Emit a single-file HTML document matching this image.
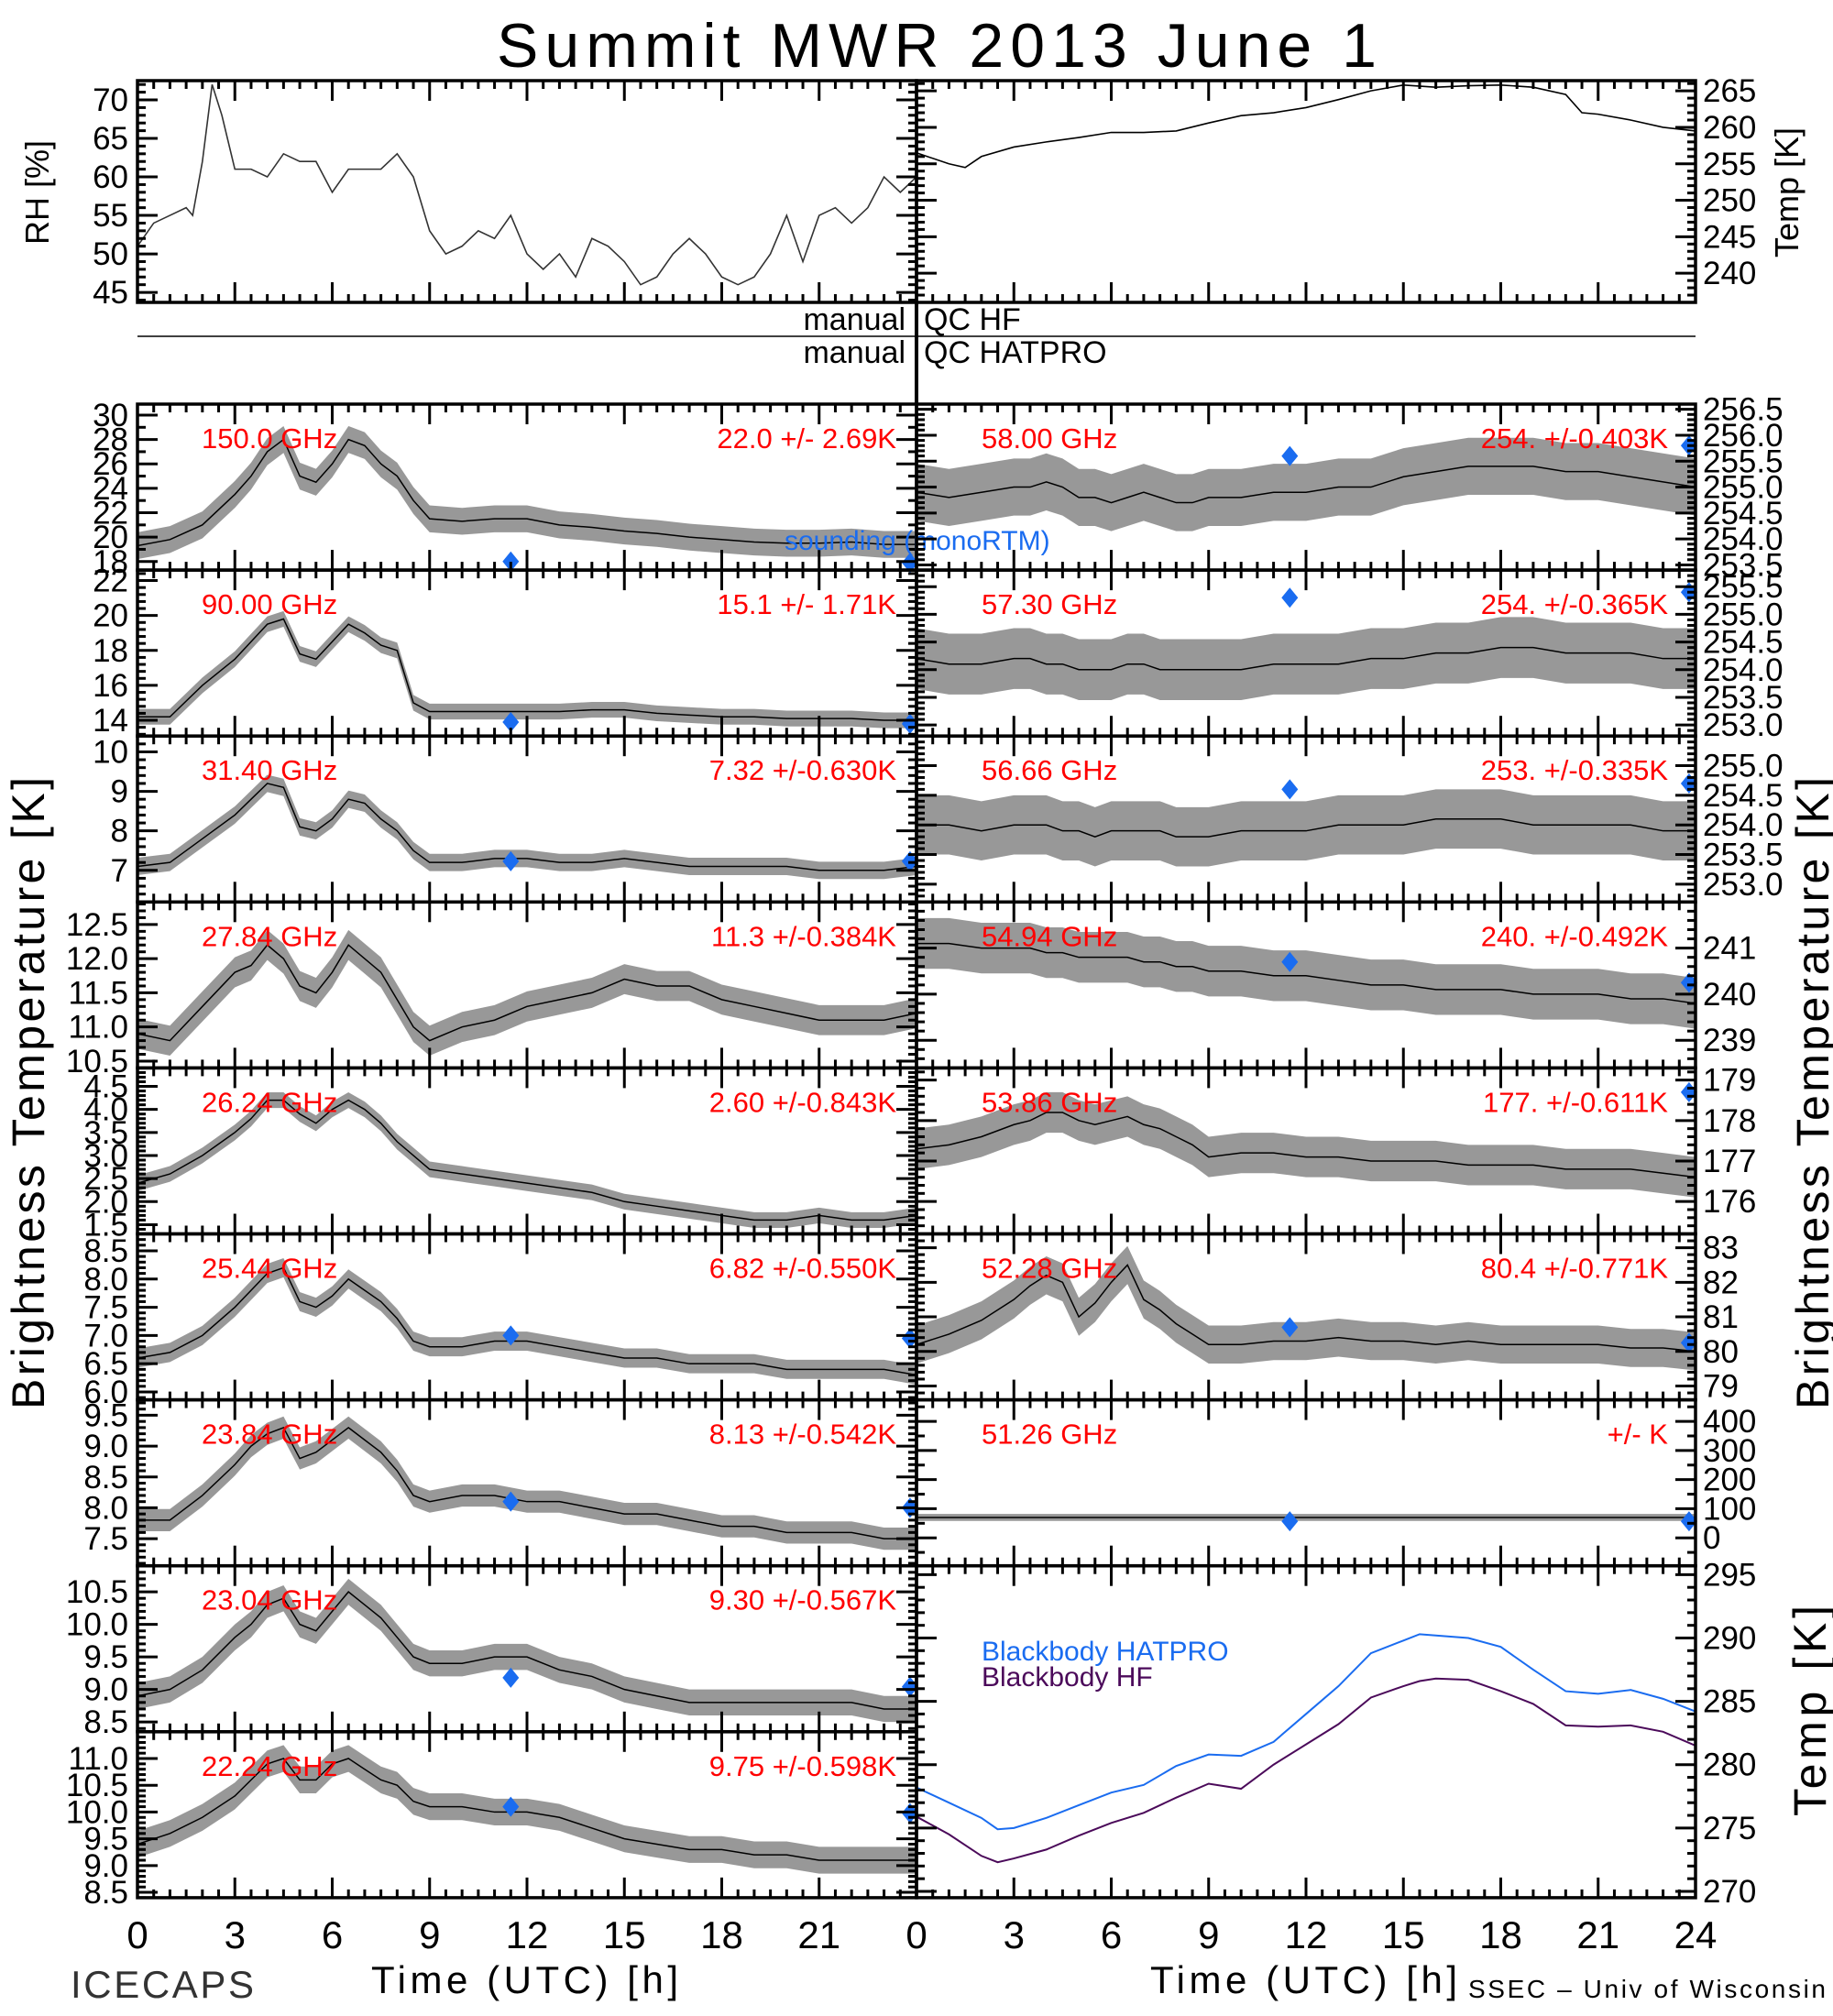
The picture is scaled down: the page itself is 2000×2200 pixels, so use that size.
<!DOCTYPE html>
<html><head><meta charset="utf-8">
<style>
html,body{margin:0;padding:0;background:#fff;overflow:hidden;}
svg{display:block;}
text{font-family:"Liberation Sans",sans-serif;}
</style></head>
<body>
<svg id="chart" xmlns="http://www.w3.org/2000/svg" width="2000" height="2200" viewBox="0 0 2000 2200">
<rect x="0" y="0" width="2000" height="2200" fill="#fff"/>
<text x="1022" y="73" font-size="68" text-anchor="middle" textLength="960" lengthAdjust="spacing">Summit  MWR  2013  June    1</text>
<text x="53" y="210" font-size="36" text-anchor="middle" transform="rotate(-90 53 210)">RH [%]</text>
<text x="1962" y="210" font-size="36" text-anchor="middle" transform="rotate(-90 1962 210)">Temp [K]</text>
<text x="48" y="1193" font-size="50" text-anchor="middle" textLength="690" lengthAdjust="spacing" transform="rotate(-90 48 1193)">Brightness Temperature [K]</text>
<text x="1995" y="1193" font-size="50" text-anchor="middle" textLength="690" lengthAdjust="spacing" transform="rotate(-90 1995 1193)">Brightness Temperature [K]</text>
<text x="1992" y="1867" font-size="50" text-anchor="middle" textLength="230" lengthAdjust="spacing" transform="rotate(-90 1992 1867)">Temp [K]</text>
<text x="988" y="360" font-size="34" text-anchor="end">manual</text>
<text x="1008" y="360" font-size="34">QC  HF</text>
<line x1="150" y1="367" x2="1850" y2="367" stroke="#000" stroke-width="1.5"/>
<text x="988" y="396" font-size="34" text-anchor="end">manual</text>
<text x="1008" y="396" font-size="34">QC  HATPRO</text>
<line x1="1000" y1="330" x2="1000" y2="441" stroke="#000" stroke-width="4"/>
<text x="405" y="2175" font-size="42" textLength="335" lengthAdjust="spacing">Time (UTC) [h]</text>
<text x="1255" y="2175" font-size="42" textLength="335" lengthAdjust="spacing">Time (UTC) [h]</text>
<text x="77" y="2180" font-size="42" fill="#333" textLength="200" lengthAdjust="spacing">ICECAPS</text>
<text x="1602" y="2180" font-size="28" textLength="390" lengthAdjust="spacing">SSEC – Univ of Wisconsin</text>
<g id="panels"></g>
</svg>
<script>
// ---------- data ----------
const T = [0,1,2,3,3.5,4,4.5,5,5.5,6,6.5,7,7.5,8,8.5,9,10,11,12,13,14,15,16,17,18,19,20,21,22,23,24];
const bt150 = [19.3,19.8,21,23.5,25,27,28,25,24.5,26,28,27.5,26,25,23,21.5,21.3,21.5,21.5,21,20.8,20.5,20.3,20,19.8,19.6,19.5,19.5,19.6,19.4,19.4];
const bt090 = [14.2,14.2,16,17.5,18.5,19.5,19.8,17.8,17.5,18.5,19.5,19,18.3,18,15,14.5,14.5,14.5,14.5,14.5,14.6,14.6,14.4,14.3,14.2,14.2,14.1,14.1,14.1,14,14];
const bt3140 = [7.1,7.2,7.8,8.4,8.8,9.2,9.1,8.1,8.0,8.3,8.8,8.7,8.3,8.0,7.5,7.2,7.2,7.3,7.3,7.2,7.2,7.3,7.2,7.1,7.1,7.1,7.1,7.0,7.0,7.0,7.1];
const bt2784 = [10.9,10.8,11.3,11.8,11.9,12.2,12.0,11.6,11.5,11.8,12.2,12.0,11.8,11.4,11.0,10.8,11.0,11.1,11.3,11.4,11.5,11.7,11.6,11.6,11.4,11.3,11.2,11.1,11.1,11.1,11.2];
const bt2624 = [2.4,2.6,3.0,3.5,3.8,4.2,4.2,3.9,3.7,4.0,4.2,4.0,3.7,3.3,3.0,2.7,2.6,2.5,2.4,2.3,2.2,2.0,1.9,1.8,1.7,1.6,1.6,1.7,1.6,1.6,1.7];
const bt2544 = [6.6,6.7,7.0,7.5,7.8,8.1,8.2,7.6,7.5,7.7,8.0,7.8,7.6,7.3,6.9,6.8,6.8,6.9,6.9,6.8,6.7,6.6,6.6,6.5,6.5,6.5,6.4,6.4,6.4,6.4,6.3];
const bt2384 = [7.8,7.8,8.2,8.7,9.0,9.2,9.3,8.8,8.9,9.1,9.3,9.1,8.9,8.6,8.2,8.1,8.2,8.2,8.1,8.1,8.0,7.9,7.9,7.8,7.7,7.7,7.6,7.6,7.6,7.5,7.5];
const bt2304 = [8.9,9.0,9.3,9.8,10.0,10.3,10.4,10.0,9.9,10.2,10.5,10.3,10.1,9.8,9.5,9.4,9.4,9.5,9.5,9.3,9.2,9.0,8.9,8.8,8.8,8.8,8.8,8.8,8.8,8.7,8.7];
const bt2224 = [9.4,9.6,9.9,10.3,10.6,10.9,11.0,10.6,10.6,10.9,11.0,10.8,10.6,10.5,10.2,10.1,10.1,10.0,10.0,9.9,9.7,9.5,9.4,9.3,9.3,9.2,9.2,9.1,9.1,9.1,9.1];
const bt5800 = [254.9,254.8,254.9,255.0,255.0,255.1,255.0,254.8,254.8,254.7,254.8,254.9,254.8,254.7,254.7,254.8,254.8,254.9,254.9,255.0,255.0,255.2,255.3,255.4,255.4,255.4,255.3,255.3,255.2,255.1,255.0];
const bt5730 = [254.2,254.1,254.1,254.2,254.2,254.1,254.1,254.0,254.0,254.0,254.1,254.1,254.0,254.0,254.0,254.0,254.0,254.1,254.1,254.1,254.2,254.2,254.3,254.3,254.4,254.4,254.3,254.3,254.3,254.2,254.2];
const bt5666 = [254.0,254.0,253.9,254.0,254.0,254.0,253.9,253.9,253.8,253.9,253.9,253.9,253.9,253.8,253.8,253.8,253.9,253.9,253.9,254.0,254.0,254.0,254.1,254.1,254.1,254.0,254.0,254.0,254.0,253.9,253.9];
const bt5494 = [241.1,241.1,241.0,241.0,241.0,240.9,240.9,240.8,240.8,240.8,240.8,240.7,240.7,240.6,240.6,240.5,240.5,240.4,240.4,240.3,240.2,240.2,240.1,240.1,240.1,240.0,240.0,240.0,239.9,239.9,239.8];
const bt5386 = [177.3,177.4,177.6,177.9,178.0,178.2,178.2,178.0,177.9,178.0,178.1,177.9,177.8,177.6,177.4,177.1,177.2,177.2,177.1,177.1,177.0,177.0,177.0,176.9,176.9,176.9,176.8,176.8,176.8,176.7,176.6];
const bt5228 = [80.2,80.5,80.9,81.5,81.9,82.2,82.0,81.0,81.4,82.0,82.5,81.5,81.2,80.8,80.5,80.2,80.2,80.3,80.3,80.4,80.3,80.3,80.2,80.3,80.2,80.2,80.2,80.2,80.1,80.1,80.0];
const bt5126 = [70,70,70,70,70,70,70,70,70,70,70,70,70,70,70,70,70,70,70,70,70,70,70,70,70,70,70,70,70,70,70];
const leftSpread = [1.1, 0.45, 0.22, 0.22, 0.17, 0.17, 0.18, 0.2, 0.25];
const rightSpread = [0.55, 0.55, 0.5, 0.55, 0.5, 0.55, 12];
const soundTime = [11.5, 23.8];
const sound150 = [18.0, 17.9];
const sound090 = [13.9, 13.8];
const sound3140 = [7.23, 7.23];
const sound2544 = [7.0, 6.95];
const sound2384 = [8.1, 8.0];
const sound2304 = [9.18, 9.04];
const sound2224 = [10.1, 9.98];
const sound5800 = [255.6, 255.8];
const sound5730 = [255.3, 255.4];
const sound5666 = [254.6, 254.7];
const sound5494 = [240.7, 240.25];
const sound5386 = [null, 178.7];
const sound5228 = [80.7, 80.25];
const sound5126 = [57, 57];
const leftFreqs = ['150.0 GHz','90.00 GHz','31.40 GHz','27.84 GHz','26.24 GHz','25.44 GHz','23.84 GHz','23.04 GHz','22.24 GHz'];
const leftStats = ['22.0 +/-  2.69K','15.1 +/-  1.71K','7.32 +/-0.630K','11.3 +/-0.384K','2.60 +/-0.843K','6.82 +/-0.550K','8.13 +/-0.542K','9.30 +/-0.567K','9.75 +/-0.598K'];
const rightFreqs = ['58.00 GHz','57.30 GHz','56.66 GHz','54.94 GHz','53.86 GHz','52.28 GHz','51.26 GHz'];
const rightStats = ['254. +/-0.403K','254. +/-0.365K','253. +/-0.335K','240. +/-0.492K','177. +/-0.611K','80.4 +/-0.771K','+/-       K'];
const leftTicks = [[30,28,26,24,22,20,18],[22,20,18,16,14],[10,9,8,7],[12.5,12.0,11.5,11.0,10.5],[4.5,4.0,3.5,3.0,2.5,2.0,1.5],[8.5,8.0,7.5,7.0,6.5,6.0],[9.5,9.0,8.5,8.0,7.5],[10.5,10.0,9.5,9.0,8.5],[11.0,10.5,10.0,9.5,9.0,8.5]];
const rightTicks = [[256.5,256.0,255.5,255.0,254.5,254.0,253.5],[255.5,255.0,254.5,254.0,253.5,253.0],[255.0,254.5,254.0,253.5,253.0],[241,240,239],[179,178,177,176],[83,82,81,80,79],[400,300,200,100,0]];
const rhTime = [0,0.5,1,1.5,1.7,2,2.3,2.6,3,3.5,4,4.5,5,5.5,6,6.5,7,7.5,8,8.5,9,9.5,10,10.5,11,11.5,12,12.5,13,13.5,14,14.5,15,15.5,16,16.5,17,17.5,18,18.5,19,19.5,20,20.5,21,21.5,22,22.5,23,23.5,24];
const rhValues = [51,54,55,56,55,62,72,68,61,61,60,63,62,62,58,61,61,61,63,60,53,50,51,53,52,55,50,48,50,47,52,51,49,46,47,50,52,50,47,46,47,50,55,49,55,56,54,56,60,58,60];
const rhTicks = [70,65,60,55,50,45];
const airTime = [0,1,1.5,2,3,4,5,6,7,8,9,10,11,12,13,14,15,16,17,18,19,20,20.5,21,22,23,24];
const airTemp = [256.5,255,254.5,256,257.3,258,258.6,259.3,259.3,259.5,260.6,261.6,262,262.7,263.8,265,265.8,265.5,265.7,265.8,265.5,264.5,262,261.8,261,260,259.5];
const airTicks = [265,260,255,250,245,240];
const bbTime = [0,1,2,2.5,3,4,5,6,7,8,9,10,11,12,13,14,15,15.5,16,17,18,19,20,21,22,23,24];
const bbHatpro = [278.2,277,275.8,274.9,275,275.8,276.8,277.8,278.4,279.9,280.8,280.7,281.8,284,286.2,288.8,289.8,290.3,290.2,290,289.3,287.5,285.8,285.6,285.9,285.2,284.2];
const bbHF = [275.9,274.5,272.8,272.3,272.6,273.3,274.4,275.4,276.2,277.4,278.5,278.1,280,281.6,283.2,285.3,286.2,286.6,286.8,286.7,285.8,284.8,283.1,283.0,283.1,282.6,281.5];
const bbTicks = [295,290,285,280,275,270];
const leftTimeTicks = [0,3,6,9,12,15,18,21];
const rightTimeTicks = [0,3,6,9,12,15,18,21,24];

// ---------- drawing ----------
const NS = 'http://www.w3.org/2000/svg';
const root = document.getElementById('panels');
function mk(tag, attrs, parent){
  const e = document.createElementNS(NS, tag);
  for (const k in attrs) e.setAttribute(k, attrs[k]);
  (parent||root).appendChild(e);
  return e;
}
const LX0=150, LX1=1000, RX0=1000, RX1=1850;
const ROW0=441, ROWH=181.1;
let clipId=0;

function makePanel(name, x0,x1,y0,y1,yMin,yMax){
  const g = mk('g',{});
  
  
  const id='clip'+(clipId++);
  const cp = mk('clipPath',{id:id},g);
  mk('rect',{x:x0,y:y0,width:x1-x0,height:y1-y0},cp);
  const inner = mk('g',{'clip-path':'url(#'+id+')'},g);
  const sx = t => x0 + (t/24)*(x1-x0);
  const sy = v => y1 - (v-yMin)/(yMax-yMin)*(y1-y0);
  return {g, inner, sx, sy, x0,x1,y0,y1};
}
function frame(p, ticks, side, fmt, minorN){
  const {g,sx,sy,x0,x1,y0,y1} = p;
  for (let h=0; h<=24; h+=0.5){
    const major = (h%3===0);
    const L = major?22:9;
    const x = sx(h);
    const t1 = mk('line',{x1:x,y1:y1,x2:x,y2:y1-L,stroke:'#000','stroke-width':3},g);
    
    
    mk('line',{x1:x,y1:y0,x2:x,y2:y0+L,stroke:'#000','stroke-width':3},g);
  }
  if (ticks){
    const step = ticks.length>1 ? Math.abs(ticks[0]-ticks[1]) : 1;
    const n = minorN||4;
    const minV = Math.min(...ticks)-step, maxV = Math.max(...ticks)+step;
    for (let v=minV; v<=maxV+1e-9; v+=step/(n+1)){
      const y = sy(v);
      if (y<y0-0.5 || y>y1+0.5) continue;
      const major = ticks.some(t=>Math.abs(t-v)<1e-6);
      const L = major?22:9;
      mk('line',{x1:x0,y1:y,x2:x0+L,y2:y,stroke:'#000','stroke-width':3},g);
      mk('line',{x1:x1,y1:y,x2:x1-L,y2:y,stroke:'#000','stroke-width':3},g);
    }
    ticks.forEach(t=>{
      const y = sy(t);
      const tx = side==='left' ? mk('text',{x:x0-10,y:y+12,'font-size':35,'text-anchor':'end'},g)
                               : mk('text',{x:x1+8,y:y+12,'font-size':35,'text-anchor':'start'},g);
      tx.textContent = fmt ? fmt(t) : String(t);
      
      
    });
  }
  mk('rect',{x:x0,y:y0,width:x1-x0,height:y1-y0,fill:'none',stroke:'#000','stroke-width':3.5},g);
}
function line(p, times, vals, color, w, name){
  const pts = times.map((t,i)=>p.sx(t)+','+p.sy(vals[i])).join(' ');
  const l = mk('polyline',{points:pts,fill:'none',stroke:color,'stroke-width':w},p.inner);
  
  
}
function band(p, times, vals, spread){
  const up=[], dn=[];
  times.forEach((t,i)=>{ up.push(p.sx(t)+','+p.sy(vals[i]+spread)); dn.unshift(p.sx(t)+','+p.sy(vals[i]-spread)); });
  const b = mk('polygon',{points:up.concat(dn).join(' '),fill:'#444','fill-opacity':0.55},p.inner);
  
  
  line(p, times, vals, '#000', 1.5, 'series-line');
}
function diamonds(p, vals){
  soundTime.forEach((t,i)=>{
    if (vals[i]==null) return;
    const x=p.sx(t), y=p.sy(vals[i]);
    const d = mk('polygon',{points:`${x},${y-11} ${x+9},${y} ${x},${y+11} ${x-9},${y}`,fill:'#1a6cf0'},p.g);
    
    
  });
}
function labels(p, freq, stat, fx, sxr){
  const a = mk('text',{x:fx,y:p.y0+48,'font-size':31,fill:'#f00'},p.g);
  a.textContent = freq;
  
  
  const b = mk('text',{x:sxr,y:p.y0+48,'font-size':31,fill:'#f00','text-anchor':'end'},p.g);
  b.textContent = stat;
  
  
}

const rh = makePanel('rh-panel', LX0,LX1,88,330,43.7,72.5);
line(rh, rhTime, rhValues, '#333', 1.6, 'rh-line');
frame(rh, rhTicks, 'left', null, 4);
const air = makePanel('air-temp-panel', RX0,RX1,88,330,236,266.4);
line(air, airTime, airTemp, '#000', 1.6, 'air-temp-line');
frame(air, airTicks, 'right', null, 4);

const leftSeries = [bt150,bt090,bt3140,bt2784,bt2624,bt2544,bt2384,bt2304,bt2224];
const leftSound = [sound150,sound090,sound3140,null,null,sound2544,sound2384,sound2304,sound2224];
const leftRange = [[17.3,30.9],[13.1,22.6],[6.2,10.4],[10.4,12.83],[1.3,4.9],[5.86,8.8],[7.06,9.75],[8.35,10.9],[8.4,11.5]];
const leftFmt = [null,null,null,v=>v.toFixed(1),v=>v.toFixed(1),v=>v.toFixed(1),v=>v.toFixed(1),v=>v.toFixed(1),v=>v.toFixed(1)];
leftSeries.forEach((s,i)=>{
  const y0 = ROW0+i*ROWH, y1 = ROW0+(i+1)*ROWH;
  const p = makePanel('left-panel-'+(i+1), LX0,LX1,y0,y1,leftRange[i][0],leftRange[i][1]);
  band(p, T, s, leftSpread[i]);
  if (leftSound[i]) diamonds(p, leftSound[i]);
  labels(p, leftFreqs[i], leftStats[i], 220, 978);
  frame(p, leftTicks[i], 'left', leftFmt[i], i===0?1:4);
  if (i===8){
    leftTimeTicks.forEach(h=>{
      const t = mk('text',{x:p.sx(h),y:y1+55,'font-size':42,'text-anchor':'middle'},p.g);
      t.textContent = String(h);
      
      
    });
  }
});
const sLab = mk('text',{x:856,y:600,'font-size':30,fill:'#1a6cf0'});
sLab.textContent = 'sounding (monoRTM)';



const rightSeries = [bt5800,bt5730,bt5666,bt5494,bt5386,bt5228,bt5126];
const rightSound = [sound5800,sound5730,sound5666,sound5494,sound5386,sound5228,sound5126];
const rightRange = [[253.4,256.6],[252.8,255.8],[252.7,255.5],[238.4,242],[175.2,179.3],[78.6,83.4],[-96,474]];
const rightFmt = [v=>v.toFixed(1),v=>v.toFixed(1),v=>v.toFixed(1),null,null,null,null];
rightSeries.forEach((s,i)=>{
  const y0 = ROW0+i*ROWH, y1 = ROW0+(i+1)*ROWH;
  const p = makePanel('right-panel-'+(i+1), RX0,RX1,y0,y1,rightRange[i][0],rightRange[i][1]);
  band(p, T, s, rightSpread[i]);
  diamonds(p, rightSound[i]);
  labels(p, rightFreqs[i], rightStats[i], 1071, 1820);
  frame(p, rightTicks[i], 'right', rightFmt[i], i===6?1:4);
});

const bb = makePanel('blackbody-panel', RX0,RX1,ROW0+7*ROWH,ROW0+9*ROWH,269.5,295.7);
line(bb, bbTime, bbHatpro, '#1a6cf0', 2, 'blackbody-hatpro-line');
line(bb, bbTime, bbHF, '#4b0a5a', 2, 'blackbody-hf-line');
frame(bb, bbTicks, 'right', null, 4);
rightTimeTicks.forEach(h=>{
  const t = mk('text',{x:bb.sx(h),y:bb.y1+55,'font-size':42,'text-anchor':'middle'},bb.g);
  t.textContent = String(h);
  
  
});
const lg1 = mk('text',{x:1071,y:1812,'font-size':30,fill:'#1a6cf0'},bb.g);
lg1.textContent = 'Blackbody HATPRO';


const lg2 = mk('text',{x:1071,y:1840,'font-size':30,fill:'#4b0a5a'},bb.g);
lg2.textContent = 'Blackbody HF';


</script>
</body></html>
